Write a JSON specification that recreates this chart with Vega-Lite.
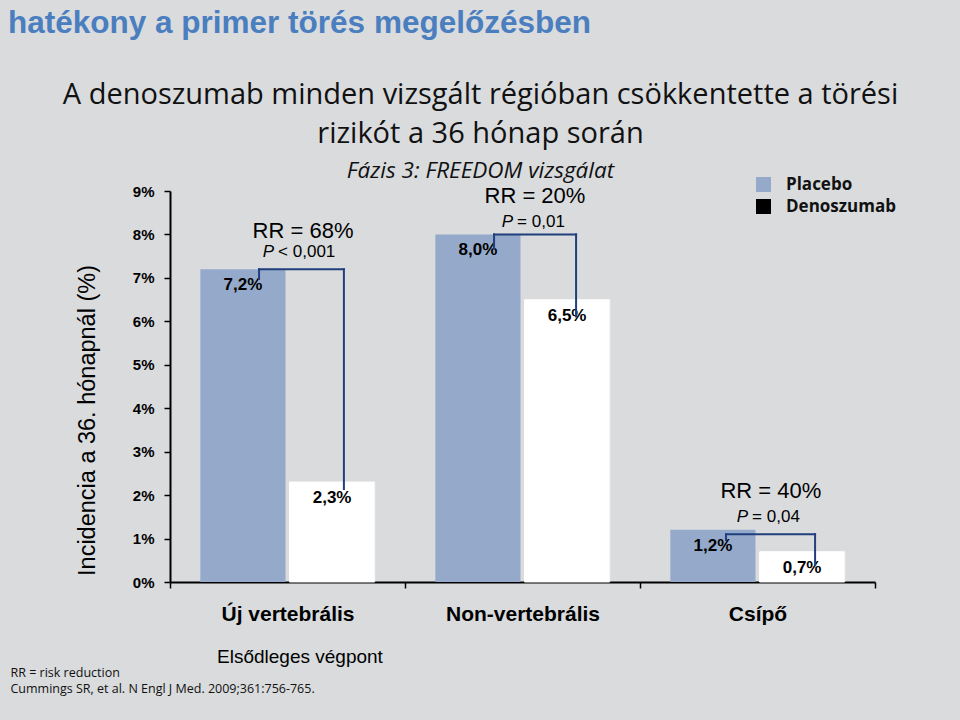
{
  "$schema": "https://vega.github.io/schema/vega-lite/v6.json",
  "width": 705,
  "height": 391,
  "autosize": {"type": "none"},
  "padding": {"left": 170, "top": 191, "right": 85, "bottom": 138},
  "background": "#d9dbdd",
  "title": {
    "text": "hatékony a primer törés megelőzésben",
    "anchor": "start",
    "frame": "group",
    "dx": -162,
    "offset": 41,
    "font": "Liberation Sans",
    "fontSize": 31.5,
    "fontWeight": "bold",
    "color": "#4a7ebf"
  },
  "datasets": {
    "bars": [
      {"cat": "Új vertebrális", "group": "Placebo", "value": 7.2, "label": "7,2%"},
      {"cat": "Új vertebrális", "group": "Denoszumab", "value": 2.3, "label": "2,3%"},
      {"cat": "Non-vertebrális", "group": "Placebo", "value": 8.0, "label": "8,0%"},
      {"cat": "Non-vertebrális", "group": "Denoszumab", "value": 6.5, "label": "6,5%"},
      {"cat": "Csípő", "group": "Placebo", "value": 1.2, "label": "1,2%"},
      {"cat": "Csípő", "group": "Denoszumab", "value": 0.7, "label": "0,7%"}
    ],
    "brackets": [
      {"x": 0.379, "x2": 0.740, "y": 7.2, "y2": 7.2},
      {"x": 0.379, "x2": 0.379, "y": 7.2, "y2": 6.975},
      {"x": 0.740, "x2": 0.740, "y": 7.2, "y2": 2.14},
      {"x": 1.379, "x2": 1.728, "y": 8.0, "y2": 8.0},
      {"x": 1.379, "x2": 1.379, "y": 8.0, "y2": 7.67},
      {"x": 1.728, "x2": 1.728, "y": 8.0, "y2": 6.11},
      {"x": 2.366, "x2": 2.745, "y": 1.1, "y2": 1.1},
      {"x": 2.366, "x2": 2.366, "y": 1.1, "y2": 0.967},
      {"x": 2.745, "x2": 2.745, "y": 1.1, "y2": 0.39}
    ],
    "notes": [
      {"kind": "rr", "text": "RR = 68%", "x": 0.566, "y": 7.92},
      {"kind": "rr", "text": "RR = 20%", "x": 1.553, "y": 8.72},
      {"kind": "rr", "text": "RR = 40%", "x": 2.557, "y": 1.93},
      {"kind": "p", "text": "P", "x": 0.443, "y": 7.48},
      {"kind": "p", "text": "P", "x": 1.46, "y": 8.17},
      {"kind": "p", "text": "P", "x": 2.46, "y": 1.38},
      {"kind": "prest", "text": "< 0,001", "x": 0.443, "y": 7.48},
      {"kind": "prest", "text": "= 0,01", "x": 1.46, "y": 8.17},
      {"kind": "prest", "text": "= 0,04", "x": 2.46, "y": 1.38},
      {"kind": "end", "text": "Elsődleges végpont", "x": 0.553, "y": -1.865}
    ]
  },
  "layer": [
    {
      "data": {"name": "bars"},
      "layer": [
        {
          "mark": {"type": "bar"},
          "encoding": {
            "x": {
              "field": "cat",
              "type": "nominal",
              "sort": ["Új vertebrális", "Non-vertebrális", "Csípő"],
              "scale": {"paddingInner": 0, "paddingOuter": 0},
              "axis": {
                "labelAngle": 0,
                "domainColor": "#000000",
                "domainWidth": 2,
                "tickBand": "extent",
                "tickColor": "#000000",
                "tickSize": 6,
                "tickWidth": 1.5,
                "labelFont": "Liberation Sans",
                "labelFontWeight": "bold",
                "labelFontSize": 21,
                "labelColor": "#000000",
                "labelPadding": 15,
                "title": ["RR = risk reduction", "Cummings SR, et al. N Engl J Med. 2009;361:756-765."],
                "titleFont": "Open Sans",
                "titleFontSize": 12.5,
                "titleFontWeight": "normal",
                "titleColor": "#111111",
                "titleX": -160,
                "titleY": 94,
                "titleAlign": "left",
                "titleBaseline": "alphabetic",
                "titleLineHeight": 16
              }
            },
            "xOffset": {
              "field": "group",
              "type": "nominal",
              "sort": ["Placebo", "Denoszumab"],
              "scale": {"paddingInner": 0.045, "paddingOuter": 0.34}
            },
            "y": {
              "field": "value",
              "type": "quantitative",
              "scale": {"domain": [0, 9], "nice": false},
              "axis": {
                "values": [0, 1, 2, 3, 4, 5, 6, 7, 8, 9],
                "labelExpr": "datum.value + '%'",
                "grid": false,
                "domainColor": "#000000",
                "domainWidth": 2,
                "tickColor": "#000000",
                "tickSize": 6,
                "tickWidth": 1.5,
                "labelFontWeight": "bold",
                "labelFontSize": 15,
                "labelColor": "#000000",
                "labelPadding": 10,
                "title": "Incidencia a 36. hónapnál (%)",
                "titleFont": "Liberation Sans",
                "titleFontSize": 23.5,
                "titleFontWeight": "normal",
                "titleColor": "#000000",
                "titleX": -83,
                "titleY": 229,
                "titleAngle": 270,
                "titleAlign": "center",
                "titleBaseline": "middle"
              }
            },
            "color": {
              "field": "group",
              "type": "nominal",
              "scale": {"domain": ["Placebo", "Denoszumab"], "range": ["#95aacb", "#000000"]},
              "legend": {
                "orient": "none",
                "legendX": 585,
                "legendY": -15,
                "title": null,
                "symbolType": "square",
                "symbolSize": 225,
                "symbolStrokeWidth": 0,
                "symbolOpacity": 1,
                "labelFont": "Open Sans",
                "labelFontWeight": "bold",
                "labelFontSize": 17,
                "labelColor": "#111111",
                "labelOffset": 14,
                "rowPadding": 4,
                "padding": 0
              }
            }
          }
        },
        {
          "transform": [{"filter": "datum.group === 'Denoszumab'"}],
          "mark": {"type": "bar", "fill": "#ffffff", "stroke": "#ffffff", "strokeWidth": 1},
          "encoding": {
            "x": {"field": "cat", "type": "nominal", "sort": ["Új vertebrális", "Non-vertebrális", "Csípő"]},
            "xOffset": {"field": "group", "type": "nominal", "sort": ["Placebo", "Denoszumab"]},
            "y": {"field": "value", "type": "quantitative", "scale": {"domain": [0, 9], "nice": false}}
          }
        },
        {
          "mark": {"type": "text", "dy": 21, "baseline": "alphabetic", "font": "Liberation Sans", "fontWeight": "bold", "fontSize": 17, "color": "#000000"},
          "encoding": {
            "x": {"field": "cat", "type": "nominal", "sort": ["Új vertebrális", "Non-vertebrális", "Csípő"]},
            "xOffset": {"field": "group", "type": "nominal", "sort": ["Placebo", "Denoszumab"]},
            "y": {"field": "value", "type": "quantitative", "scale": {"domain": [0, 9], "nice": false}},
            "text": {"field": "label"}
          }
        }
      ]
    },
    {
      "layer": [
        {
          "data": {"name": "brackets"},
          "mark": {"type": "rule", "color": "#203f7c", "strokeWidth": 2, "strokeCap": "square"},
          "encoding": {
            "x": {
              "field": "x",
              "type": "quantitative",
              "scale": {"domain": [0, 3], "nice": false, "zero": false},
              "axis": {
                "orient": "top",
                "labels": false,
                "ticks": false,
                "domain": false,
                "grid": false,
                "title": ["A denoszumab minden vizsgált régióban csökkentette a törési", "rizikót a 36 hónap során"],
                "titleFont": "Open Sans",
                "titleFontSize": 29,
                "titleFontWeight": "normal",
                "titleColor": "#111111",
                "titleX": 310,
                "titleY": -88,
                "titleAlign": "center",
                "titleBaseline": "alphabetic",
                "titleLineHeight": 39
              }
            },
            "x2": {"field": "x2"},
            "y": {
              "field": "y",
              "type": "quantitative",
              "scale": {"domain": [0, 9], "nice": false},
              "axis": {
                "orient": "right",
                "labels": false,
                "ticks": false,
                "domain": false,
                "grid": false,
                "title": "Fázis 3: FREEDOM vizsgálat",
                "titleFont": "Open Sans",
                "titleFontSize": 22.5,
                "titleFontWeight": "normal",
                "titleFontStyle": "italic",
                "titleColor": "#111111",
                "titleAngle": 0,
                "titleX": -395,
                "titleY": -14,
                "titleAlign": "center",
                "titleBaseline": "alphabetic"
              }
            },
            "y2": {"field": "y2"}
          }
        },
        {
          "data": {"name": "notes"},
          "transform": [{"filter": "datum.kind === 'rr'"}],
          "mark": {"type": "text", "font": "Liberation Sans", "fontSize": 22, "align": "center", "baseline": "alphabetic", "color": "#000000"},
          "encoding": {
            "x": {"field": "x", "type": "quantitative", "scale": {"domain": [0, 3], "nice": false, "zero": false}},
            "y": {"field": "y", "type": "quantitative", "scale": {"domain": [0, 9], "nice": false}},
            "text": {"field": "text"}
          }
        },
        {
          "data": {"name": "notes"},
          "transform": [{"filter": "datum.kind === 'p'"}],
          "mark": {"type": "text", "font": "Liberation Sans", "fontSize": 17, "fontStyle": "italic", "align": "right", "baseline": "alphabetic", "color": "#000000"},
          "encoding": {
            "x": {"field": "x", "type": "quantitative", "scale": {"domain": [0, 3], "nice": false, "zero": false}},
            "y": {"field": "y", "type": "quantitative", "scale": {"domain": [0, 9], "nice": false}},
            "text": {"field": "text"}
          }
        },
        {
          "data": {"name": "notes"},
          "transform": [{"filter": "datum.kind === 'prest'"}],
          "mark": {"type": "text", "font": "Liberation Sans", "fontSize": 17, "align": "left", "dx": 4, "baseline": "alphabetic", "color": "#000000"},
          "encoding": {
            "x": {"field": "x", "type": "quantitative", "scale": {"domain": [0, 3], "nice": false, "zero": false}},
            "y": {"field": "y", "type": "quantitative", "scale": {"domain": [0, 9], "nice": false}},
            "text": {"field": "text"}
          }
        },
        {
          "data": {"name": "notes"},
          "transform": [{"filter": "datum.kind === 'end'"}],
          "mark": {"type": "text", "font": "Liberation Sans", "fontSize": 19, "align": "center", "baseline": "alphabetic", "color": "#000000"},
          "encoding": {
            "x": {"field": "x", "type": "quantitative", "scale": {"domain": [0, 3], "nice": false, "zero": false}},
            "y": {"field": "y", "type": "quantitative", "scale": {"domain": [0, 9], "nice": false}},
            "text": {"field": "text"}
          }
        }
      ]
    }
  ],
  "resolve": {"scale": {"x": "independent"}, "axis": {"y": "independent"}},
  "config": {
    "view": {"stroke": null},
    "font": "Liberation Sans",
    "axis": {"labelFont": "Liberation Sans"}
  }
}
